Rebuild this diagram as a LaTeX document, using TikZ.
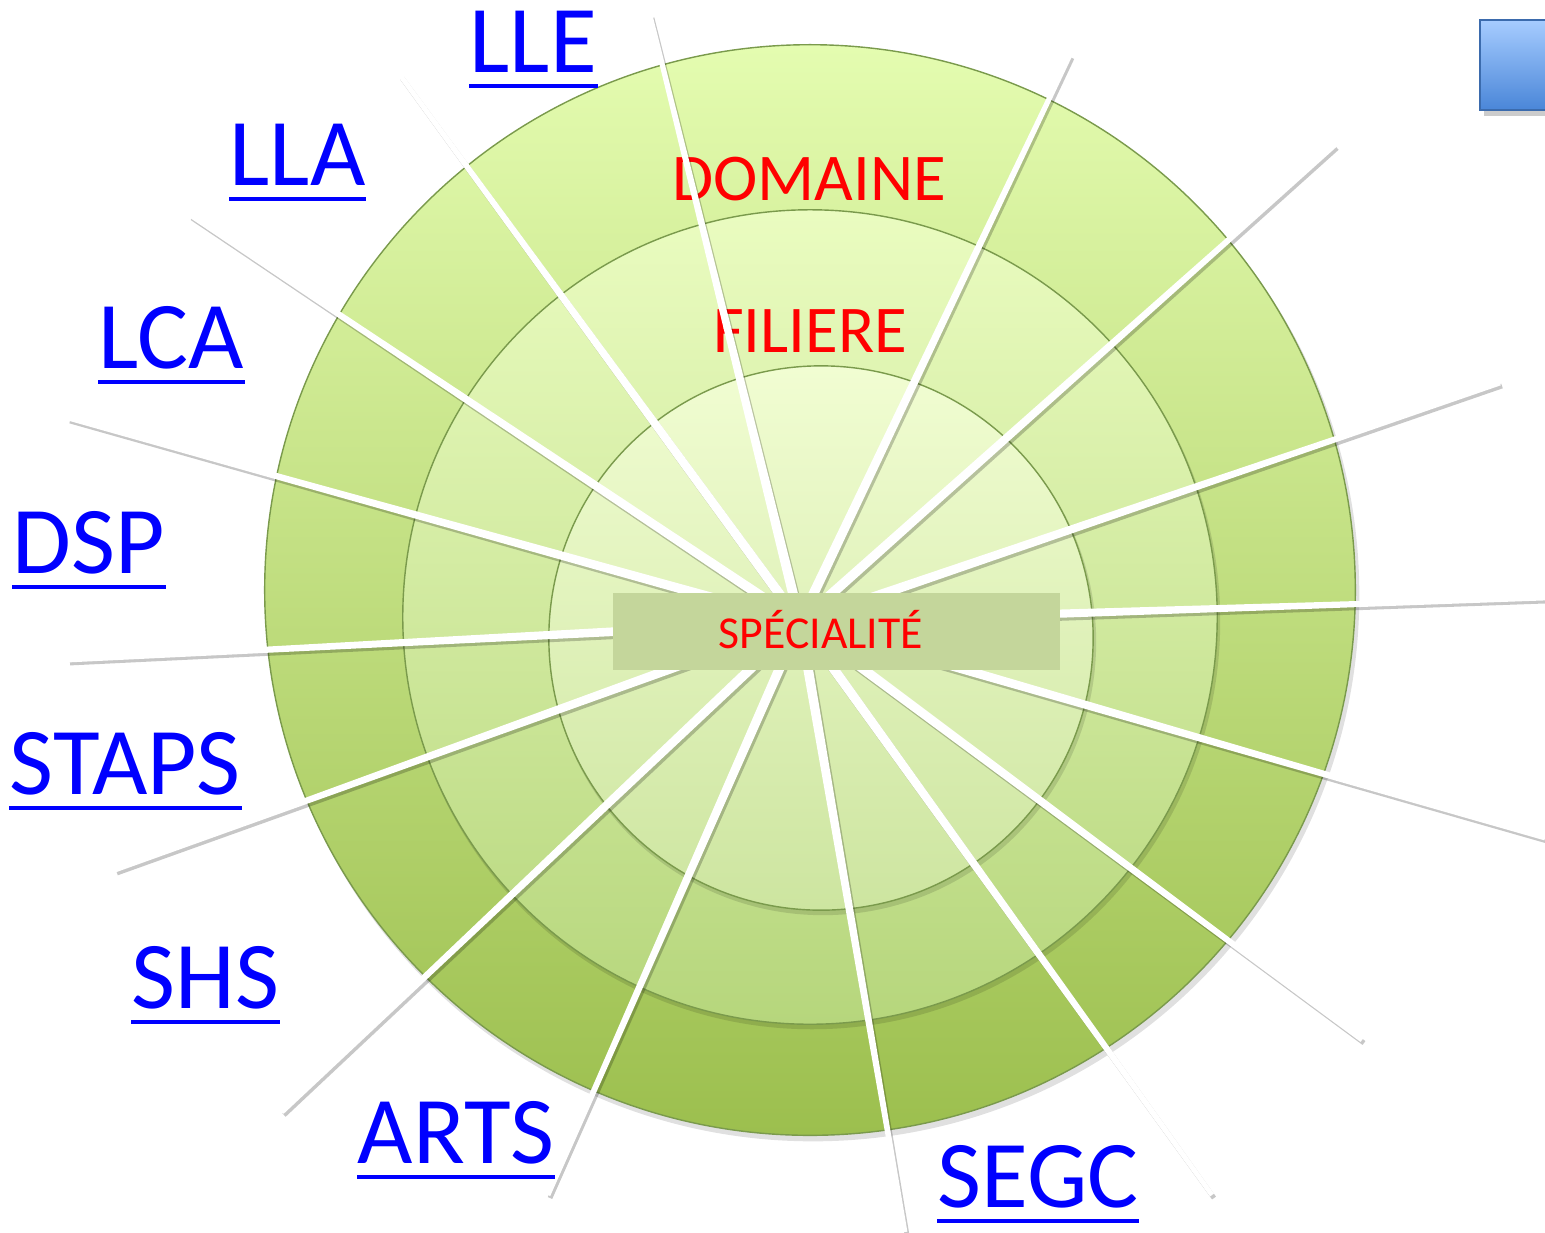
\documentclass[tikz,border=0pt]{standalone}
\usepackage{fontspec}
\setmainfont{Carlito}
\usetikzlibrary{calc}
\definecolor{anneauHaut}{HTML}{E4FCB0}
\definecolor{anneauBas}{HTML}{9CBF4E}
\definecolor{milieuHaut}{HTML}{EAFCC0}
\definecolor{milieuBas}{HTML}{B6D67C}
\definecolor{coeurHaut}{HTML}{F1FDD2}
\definecolor{coeurBas}{HTML}{CDE5A0}
\definecolor{bord}{HTML}{7A9A4C}
\definecolor{boite}{HTML}{C4D69B}
\definecolor{bleuHaut}{HTML}{A6CCFF}
\definecolor{bleuBas}{HTML}{4A86D8}
\tikzset{
  ombre/.style={black,opacity=0.22},
  rayon/.style={white},
  disque/.style={draw=bord,line width=0.4pt},
  lien/.style={text=blue,font=\fontsize{27.2}{30}\selectfont,anchor=base west,inner sep=0pt},
  souligne/.style={blue,line width=1.4pt},
  titre/.style={text=red,font=\fontsize{19}{22}\selectfont,anchor=base,inner sep=0pt}
}
\begin{document}
\begin{tikzpicture}[x=0.01cm,y=-0.01cm]
\useasboundingbox (0,0) rectangle (1545,1232);
% bouton bleu
\fill[black,opacity=0.2] (1484,25) rectangle (1550,116);
\shadedraw[draw=bleuBas!80!black,top color=bleuHaut,bottom color=bleuBas] (1480,20) rectangle (1550,110);
% les trois disques
\fill[black,opacity=0.12] (813,595) circle (5.46cm);
\shadedraw[disque,top color=anneauHaut,bottom color=anneauBas] (810,590) circle (5.45cm);
\fill[black,opacity=0.12] (812,621) circle (4.08cm);
\shadedraw[disque,top color=milieuHaut,bottom color=milieuBas] (810,617) circle (4.07cm);
\fill[black,opacity=0.12] (823,642) circle (2.73cm);
\shadedraw[disque,top color=coeurHaut,bottom color=coeurBas] (821,638) circle (2.72cm);
\node[titre] (domaine) at (809,200) {DOMAINE};
\node[titre] (filiere) at (810,352) {FILIERE};
% rayons
\coordinate (c) at (800,622);
\foreach \n/\x/\y in {r1/650/15, r2/1070/55, r3/1335/145, r4/1500/383,
  r5/1545/598, r6/1545/838, r7/1362/1040, r8/1212/1195, r9/905/1232,
  r10/548/1195, r11/282/1112, r12/115/870, r13/68/660, r14/68/418,
  r15/190/215, r16/400/75}
  \coordinate (\n) at (\x,\y);
\begin{scope}[transform canvas={shift={(0.02cm,-0.03cm)}}]
\foreach \n in {r1,r2,r3,r4,r5,r6,r7,r8,r9,r10,r11,r12,r13,r14,r15,r16}
  \fill[ombre] ($(c)!0.05cm!90:(\n)$) -- ($(\n)!0.024cm!-90:(c)$)
    -- ($(\n)!0.024cm!90:(c)$) -- ($(c)!0.05cm!-90:(\n)$) -- cycle;
\end{scope}
\foreach \n in {r1,r2,r3,r4,r5,r6,r7,r8,r9,r10,r11,r12,r13,r14,r15,r16}
  \fill[rayon] ($(c)!0.05cm!90:(\n)$) -- ($(\n)!0.024cm!-90:(c)$)
    -- ($(\n)!0.024cm!90:(c)$) -- ($(c)!0.05cm!-90:(\n)$) -- cycle;
\node[fill=boite,minimum width=4.47cm,minimum height=0.77cm,inner sep=0pt] (spe) at (836.5,631.5) {};
\node[titre,font=\fontsize{13}{15}\selectfont] (spetxt) at (821,648) {SPÉCIALITÉ};
% filieres
\node[lien] (lle) at (469,72) {LLE};
\node[lien] (lla) at (229,185) {LLA};
\node[lien] (lca) at (98,368) {LCA};
\node[lien] (dsp) at (12,573) {DSP};
\node[lien] (staps) at (9,794) {STAPS};
\node[lien] (shs) at (131,1008) {SHS};
\node[lien] (arts) at (357,1163) {ARTS};
\node[lien] (segc) at (937,1207) {SEGC};
\foreach \n in {lle,lla,lca,dsp,staps,shs,arts,segc}
  \draw[souligne] ([yshift=-0.14cm]\n.base west) -- ([yshift=-0.14cm]\n.base east);
\end{tikzpicture}
\end{document}
